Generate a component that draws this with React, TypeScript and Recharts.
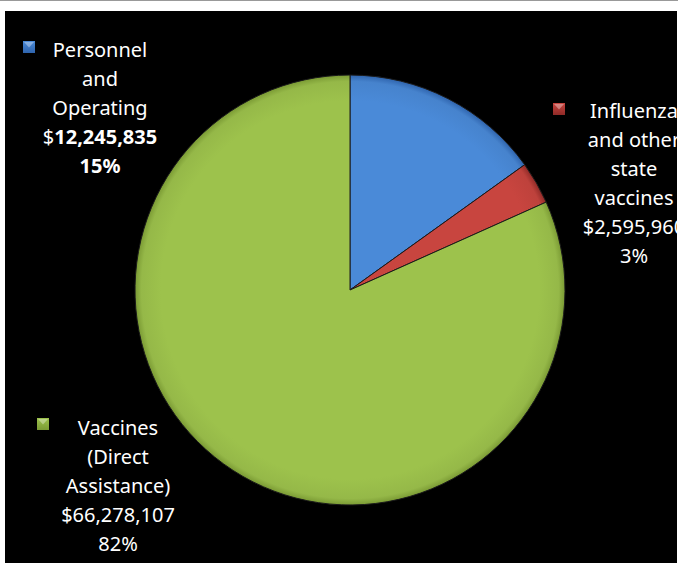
import React from 'react';
import { Pie, PieChart, Cell } from 'recharts';

const categories = ['Personnel and Operating', 'Influenza and other state vaccines', 'Vaccines (Direct Assistance)'];
const amounts = [12245835, 2595960, 66278107];
const percents = ['15%', '3%', '82%'];
const nameLines = [['Personnel', 'and', 'Operating'], ['Influenza', 'and other', 'state', 'vaccines'], ['Vaccines', '(Direct', 'Assistance)']];
const colors = ['#4a8ad8', '#c8453f', '#9dc24c'];
const darkColors = ['#2f64ad', '#8f2a27', '#7a9a34'];

const data = categories.map((name, i) => ({ name, value: amounts[i] }));

// label block placement relative to pie centre: text centre x, first line y, key x/y
const labelPos = [
    { dx: -250, dy: -241, kx: -327, ky: -249, bold: true },
    { dx: 284, dy: -180, kx: 203, ky: -187, bold: false },
    { dx: -232, dy: 137, kx: -313, ky: 128, bold: false },
];
const lineGap = 29;
const fontSize = 20;

const fmt = (v: number) => v.toLocaleString('en-US');

function renderLabel(props: any) {
    const { cx, cy, index } = props;
    const p = labelPos[index];
    const x = cx + p.dx;
    const y0 = cy + p.dy;
    const lines = nameLines[index];
    const kx = cx + p.kx;
    const ky = cy + p.ky;
    return (
        <g key={`lbl-${index}`}>
            <rect x={kx} y={ky} width={12} height={12} fill={`url(#key${index})`} />
            <polygon points={`${kx + 1},${ky + 1} ${kx + 11},${ky + 1} ${kx + 6},${ky + 6.5}`} fill="#ffffff" opacity={0.35} />
            {lines.map((t, i) => (
                <text key={i} x={x} y={y0 + i * lineGap} textAnchor="middle" dominantBaseline="central" fill="#fff" fontSize={fontSize}>
                    {t}
                </text>
            ))}
            <text x={x} y={y0 + lines.length * lineGap} textAnchor="middle" dominantBaseline="central" fill="#fff" fontSize={fontSize}>
                $<tspan fontWeight={p.bold ? 'bold' : 'normal'}>{fmt(amounts[index])}</tspan>
            </text>
            <text
                x={x}
                y={y0 + (lines.length + 1) * lineGap}
                textAnchor="middle"
                dominantBaseline="central"
                fill="#fff"
                fontSize={fontSize}
                fontWeight={p.bold ? 'bold' : 'normal'}
            >
                {percents[index]}
            </text>
        </g>
    );
}

export default function App() {
    return (
        <div
            style={{
                position: 'absolute',
                left: 0,
                top: 0,
                width: 678,
                height: 563,
                background: '#fff',
                fontFamily: '"Noto Sans", sans-serif',
            }}
        >
            <div style={{ position: 'absolute', left: 0, top: 0, width: 678, height: 1, background: '#999' }} />
            <div style={{ position: 'absolute', left: 5, top: 11, width: 672, height: 552, background: '#000' }}>
                <PieChart width={672} height={552} margin={{ top: 0, right: 0, bottom: 0, left: 0 }}>
                    <defs>
                        {colors.map((c, i) => (
                            <radialGradient key={i} id={`grad${i}`} cx={345} cy={279} r={215} gradientUnits="userSpaceOnUse">
                                <stop offset="0%" stopColor={c} />
                                <stop offset="88%" stopColor={c} />
                                <stop offset="97%" stopColor={c} stopOpacity={0.95} />
                                <stop offset="100%" stopColor={darkColors[i]} />
                            </radialGradient>
                        ))}
                        {colors.map((c, i) => (
                            <linearGradient key={`k${i}`} id={`key${i}`} x1="0" y1="0" x2="0" y2="1">
                                <stop offset="0%" stopColor={c} />
                                <stop offset="100%" stopColor={darkColors[i]} />
                            </linearGradient>
                        ))}
                    </defs>
                    <Pie
                        data={data}
                        dataKey="value"
                        nameKey="name"
                        cx={345}
                        cy={279}
                        outerRadius={215}
                        startAngle={90}
                        endAngle={-270}
                        stroke="#1a1a1a"
                        strokeWidth={1}
                        label={renderLabel}
                        labelLine={false}
                        isAnimationActive={false}
                    >
                        {data.map((d, i) => (
                            <Cell key={d.name} fill={`url(#grad${i})`} />
                        ))}
                    </Pie>
                </PieChart>
            </div>
        </div>
    );
}
